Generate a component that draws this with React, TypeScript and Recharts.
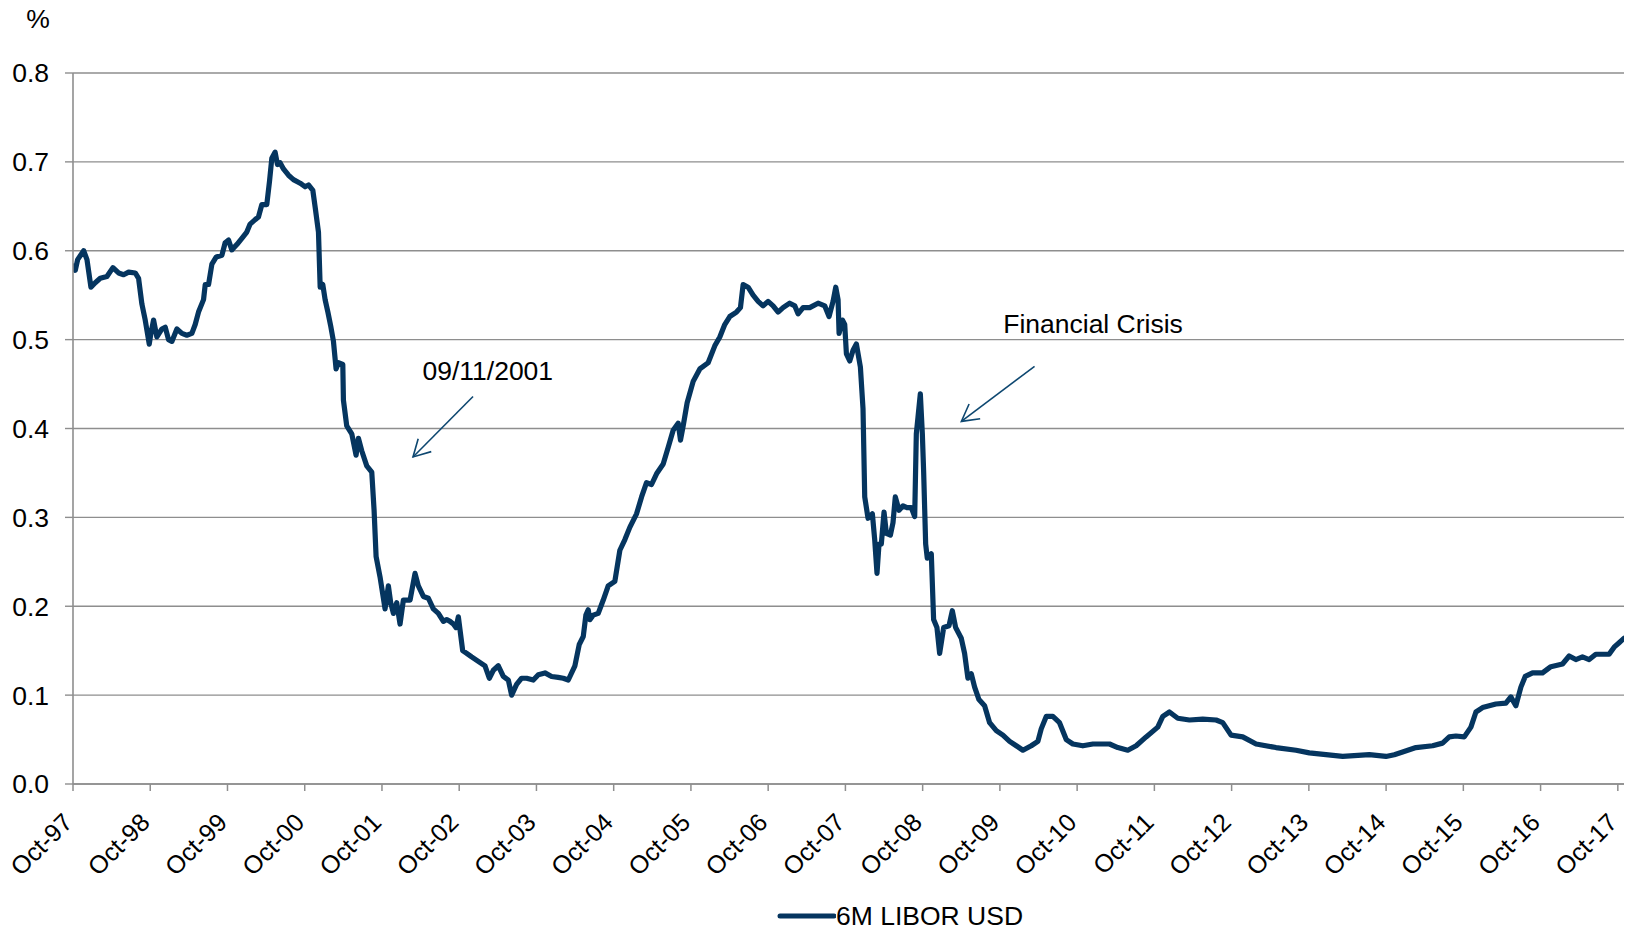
import { CartesianGrid, Legend, Line, LineChart, ReferenceDot, ReferenceLine, XAxis, YAxis } from 'recharts';

// decimal years (Oct-97 = 1997.75)
const years = [
  1997.75, 1997.78, 1997.81, 1997.888, 1997.931, 1997.982, 1998.038, 1998.103, 1998.189, 1998.267,
  1998.34, 1998.405, 1998.47, 1998.556, 1998.599, 1998.642, 1998.685, 1998.737, 1998.759, 1998.793,
  1998.836, 1998.901, 1998.944, 1998.987, 1999.03, 1999.095, 1999.16, 1999.224, 1999.289, 1999.332,
  1999.375, 1999.44, 1999.462, 1999.505, 1999.548, 1999.605, 1999.678, 1999.72, 1999.764, 1999.806,
  1999.871, 1999.936, 2000.0, 2000.043, 2000.108, 2000.151, 2000.195, 2000.259, 2000.294, 2000.324,
  2000.366, 2000.397, 2000.431, 2000.475, 2000.54, 2000.604, 2000.691, 2000.755, 2000.799, 2000.855,
  2000.885, 2000.928, 2000.95, 2000.984, 2001.014, 2001.05, 2001.087, 2001.122, 2001.156, 2001.186,
  2001.243, 2001.251, 2001.294, 2001.359, 2001.415, 2001.445, 2001.488, 2001.553, 2001.618, 2001.648,
  2001.674, 2001.725, 2001.79, 2001.833, 2001.863, 2001.898, 2001.941, 2001.984, 2002.027, 2002.114,
  2002.178, 2002.221, 2002.286, 2002.351, 2002.415, 2002.48, 2002.545, 2002.588, 2002.631, 2002.674,
  2002.709, 2002.739, 2002.795, 2002.847, 2002.911, 2002.997, 2003.084, 2003.14, 2003.192, 2003.256,
  2003.321, 2003.386, 2003.429, 2003.493, 2003.558, 2003.623, 2003.709, 2003.774, 2003.86, 2003.946,
  2004.032, 2004.097, 2004.162, 2004.248, 2004.304, 2004.356, 2004.39, 2004.42, 2004.442, 2004.485,
  2004.55, 2004.615, 2004.679, 2004.765, 2004.83, 2004.895, 2004.96, 2005.046, 2005.111, 2005.175,
  2005.24, 2005.305, 2005.391, 2005.456, 2005.52, 2005.585, 2005.615, 2005.65, 2005.701, 2005.779,
  2005.865, 2005.973, 2006.059, 2006.124, 2006.188, 2006.253, 2006.34, 2006.391, 2006.426, 2006.49,
  2006.555, 2006.62, 2006.684, 2006.749, 2006.814, 2006.879, 2006.943, 2007.029, 2007.094, 2007.137,
  2007.202, 2007.288, 2007.396, 2007.482, 2007.538, 2007.59, 2007.625, 2007.655, 2007.668, 2007.711,
  2007.741, 2007.763, 2007.806, 2007.849, 2007.892, 2007.944, 2007.978, 2008.0, 2008.043, 2008.099,
  2008.129, 2008.159, 2008.185, 2008.215, 2008.25, 2008.28, 2008.332, 2008.366, 2008.396, 2008.444,
  2008.496, 2008.547, 2008.603, 2008.647, 2008.668, 2008.69, 2008.72, 2008.746, 2008.763, 2008.789,
  2008.81, 2008.862, 2008.892, 2008.935, 2008.97, 2009.022, 2009.091, 2009.134, 2009.177, 2009.25,
  2009.293, 2009.336, 2009.38, 2009.423, 2009.479, 2009.552, 2009.617, 2009.703, 2009.789, 2009.876,
  2009.962, 2010.048, 2010.156, 2010.242, 2010.285, 2010.35, 2010.436, 2010.522, 2010.609, 2010.695,
  2010.824, 2010.954, 2011.083, 2011.169, 2011.277, 2011.406, 2011.514, 2011.643, 2011.794, 2011.859,
  2011.945, 2012.053, 2012.204, 2012.376, 2012.549, 2012.635, 2012.743, 2012.894, 2013.067, 2013.325,
  2013.584, 2013.756, 2013.972, 2014.188, 2014.533, 2014.748, 2014.856, 2014.964, 2015.136, 2015.352,
  2015.481, 2015.568, 2015.654, 2015.762, 2015.848, 2015.913, 2015.999, 2016.085, 2016.171, 2016.301,
  2016.365, 2016.43, 2016.495, 2016.551, 2016.646, 2016.775, 2016.883, 2017.034, 2017.12, 2017.206,
  2017.292, 2017.379, 2017.465, 2017.637, 2017.702, 2017.767, 2017.832,
];

const rates = [
  0.583, 0.578, 0.59, 0.6, 0.59, 0.559, 0.564, 0.569, 0.571, 0.581,
  0.575, 0.573, 0.576, 0.575, 0.569, 0.54, 0.522, 0.495, 0.507, 0.522,
  0.503, 0.512, 0.514, 0.5, 0.498, 0.512, 0.507, 0.505, 0.507, 0.517,
  0.531, 0.545, 0.562, 0.562, 0.585, 0.593, 0.595, 0.609, 0.612, 0.601,
  0.607, 0.614, 0.621, 0.63, 0.635, 0.638, 0.652, 0.652, 0.678, 0.704,
  0.711, 0.697, 0.699, 0.692, 0.685, 0.68, 0.676, 0.672, 0.674, 0.668,
  0.649, 0.621, 0.559, 0.562, 0.545, 0.531, 0.515, 0.498, 0.467, 0.474,
  0.472, 0.432, 0.403, 0.394, 0.37, 0.389, 0.375, 0.358, 0.351, 0.308,
  0.256, 0.233, 0.197, 0.223, 0.204, 0.192, 0.204, 0.18, 0.207, 0.207,
  0.237, 0.223, 0.211, 0.209, 0.197, 0.192, 0.183, 0.185, 0.183, 0.18,
  0.176, 0.188, 0.15, 0.147, 0.143, 0.138, 0.133, 0.119, 0.128, 0.133,
  0.121, 0.117, 0.1, 0.112, 0.119, 0.119, 0.117, 0.123, 0.125, 0.121,
  0.12, 0.119, 0.117, 0.133, 0.157, 0.166, 0.19, 0.196, 0.185, 0.19,
  0.192, 0.207, 0.223, 0.228, 0.263, 0.275, 0.289, 0.304, 0.323, 0.339,
  0.337, 0.349, 0.36, 0.379, 0.398, 0.406, 0.387, 0.403, 0.429, 0.453,
  0.467, 0.474, 0.493, 0.503, 0.517, 0.526, 0.531, 0.536, 0.562, 0.559,
  0.55, 0.543, 0.538, 0.543, 0.538, 0.531, 0.536, 0.541, 0.538, 0.529,
  0.536, 0.536, 0.541, 0.538, 0.526, 0.543, 0.559, 0.545, 0.507, 0.522,
  0.517, 0.484, 0.476, 0.488, 0.495, 0.469, 0.422, 0.323, 0.299, 0.304,
  0.275, 0.237, 0.27, 0.27, 0.306, 0.282, 0.28, 0.294, 0.323, 0.308,
  0.313, 0.311, 0.311, 0.301, 0.394, 0.413, 0.439, 0.394, 0.351, 0.27,
  0.254, 0.259, 0.185, 0.176, 0.147, 0.176, 0.178, 0.195, 0.176, 0.164,
  0.147, 0.119, 0.124, 0.109, 0.095, 0.088, 0.069, 0.06, 0.055, 0.048,
  0.043, 0.038, 0.043, 0.048, 0.062, 0.076, 0.076, 0.069, 0.05, 0.045,
  0.043, 0.045, 0.045, 0.045, 0.041, 0.038, 0.043, 0.053, 0.064, 0.076,
  0.081, 0.074, 0.072, 0.073, 0.072, 0.069, 0.055, 0.053, 0.045, 0.041,
  0.038, 0.035, 0.033, 0.031, 0.033, 0.031, 0.033, 0.036, 0.041, 0.043,
  0.046, 0.053, 0.054, 0.053, 0.064, 0.081, 0.086, 0.088, 0.09, 0.091,
  0.098, 0.088, 0.109, 0.121, 0.125, 0.125, 0.132, 0.135, 0.144, 0.14,
  0.143, 0.14, 0.146, 0.146, 0.154, 0.159, 0.164,
];

const tickYears = [
  1997.75, 1998.75, 1999.75, 2000.75, 2001.75, 2002.75, 2003.75, 2004.75, 2005.75, 2006.75,
  2007.75, 2008.75, 2009.75, 2010.75, 2011.75, 2012.75, 2013.75, 2014.75, 2015.75, 2016.75, 2017.75,
];
const tickLabels = [
  'Oct-97', 'Oct-98', 'Oct-99', 'Oct-00', 'Oct-01', 'Oct-02', 'Oct-03', 'Oct-04', 'Oct-05', 'Oct-06',
  'Oct-07', 'Oct-08', 'Oct-09', 'Oct-10', 'Oct-11', 'Oct-12', 'Oct-13', 'Oct-14', 'Oct-15', 'Oct-16', 'Oct-17',
];
const yTicks = [0, 0.1, 0.2, 0.3, 0.4, 0.5, 0.6, 0.7, 0.8];

const annotations = [
  { text: '09/11/2001', textX: 2003.12, textY: 0.455, fromX: 2002.929, fromY: 0.436, toX: 2002.152, toY: 0.368 },
  { text: 'Financial Crisis', textX: 2010.956, textY: 0.508, fromX: 2010.199, fromY: 0.47, toX: 2009.251, toY: 0.408 },
];

const SERIES = '6M LIBOR USD';
const NAVY = '#05355f';
const ARROW = '#0d4770';
const GRID = '#8e8e8e';
const FONT = '"Liberation Sans", Arial, sans-serif';
const FS = 26.5;

const data = years.map((year, i) => ({ year, rate: rates[i] }));

function XTick(props: any) {
  const { x, y, payload } = props;
  const i = tickYears.indexOf(payload.value);
  const tx = x + 1;
  const ty = y + 31;
  return (
    <text
      x={tx}
      y={ty}
      transform={`rotate(-45, ${tx}, ${ty})`}
      textAnchor="end"
      fontFamily={FONT}
      fontSize={25}
      fill="#000"
    >
      {tickLabels[i]}
    </text>
  );
}

function Arrow(props: any) {
  const { x1, y1, x2, y2 } = props;
  const a = Math.atan2(y1 - y2, x1 - x2);
  const len = 19;
  const spread = (29 * Math.PI) / 180;
  const w1 = [x2 + len * Math.cos(a - spread), y2 + len * Math.sin(a - spread)];
  const w2 = [x2 + len * Math.cos(a + spread), y2 + len * Math.sin(a + spread)];
  return (
    <g stroke={ARROW} strokeWidth={1.6} fill="none">
      <line x1={x1} y1={y1} x2={x2} y2={y2} />
      <polyline points={`${w1[0]},${w1[1]} ${x2},${y2} ${w2[0]},${w2[1]}`} />
    </g>
  );
}

export default function App() {
  return (
    <div style={{ position: 'absolute', left: 0, top: 0, width: 1629, height: 931, background: '#fff' }}>
      <LineChart width={1629} height={931} data={data} margin={{ top: 73, right: 5, bottom: 0, left: 0 }}>
        <CartesianGrid vertical={false} stroke={GRID} strokeWidth={1.4} />
        <XAxis
          dataKey="year"
          type="number"
          domain={[1997.75, 2017.83]}
          ticks={tickYears}
          interval={0}
          allowDataOverflow
          height={117}
          tickSize={7}
          tickLine={{ stroke: GRID, strokeWidth: 1.5 }}
          axisLine={{ stroke: GRID, strokeWidth: 1.6 }}
          tick={(p: any) => <XTick {...p} />}
        />
        <YAxis
          type="number"
          domain={[0, 0.8]}
          ticks={yTicks}
          interval={0}
          width={73}
          tickSize={8}
          tickMargin={16}
          tickFormatter={(v: number) => v.toFixed(1)}
          tickLine={{ stroke: GRID, strokeWidth: 1.4 }}
          axisLine={{ stroke: GRID, strokeWidth: 1.6 }}
          tick={{ fill: '#000', fontSize: FS, fontFamily: FONT }}
          label={{
            content: ({ viewBox }: any) => (
              <text x={viewBox.x + 38} y={viewBox.y - 45} textAnchor="middle" fontFamily={FONT} fontSize={FS} fill="#000">
                %
              </text>
            ),
          }}
        />
        {annotations.map((a) => (
          <ReferenceLine
            key={a.text + '-arrow'}
            segment={[
              { x: a.fromX, y: a.fromY },
              { x: a.toX, y: a.toY },
            ]}
            shape={(p: any) => <Arrow {...p} />}
          />
        ))}
        {annotations.map((a) => (
          <ReferenceDot
            key={a.text}
            x={a.textX}
            y={a.textY}
            r={0}
            shape={(p: any) => (
              <text x={p.cx} y={p.cy} textAnchor="middle" fontFamily={FONT} fontSize={FS} fill="#000">
                {a.text}
              </text>
            )}
          />
        ))}
        <Line
          type="linear"
          dataKey="rate"
          name={SERIES}
          stroke={NAVY}
          strokeWidth={5.2}
          strokeLinejoin="round"
          strokeLinecap="round"
          dot={false}
          isAnimationActive={false}
        />
        <Legend
          verticalAlign="bottom"
          align="left"
          wrapperStyle={{ left: 777, bottom: 0, width: 460, height: 30 }}
          content={() => (
            <div style={{ display: 'flex', alignItems: 'center', height: 30 }}>
              <svg width={59} height={12}>
                <line x1={3} y1={6} x2={57} y2={6} stroke={NAVY} strokeWidth={5} strokeLinecap="round" />
              </svg>
              <span style={{ fontFamily: FONT, fontSize: FS, color: '#000', lineHeight: '30px' }}>{SERIES}</span>
            </div>
          )}
        />
      </LineChart>
    </div>
  );
}
